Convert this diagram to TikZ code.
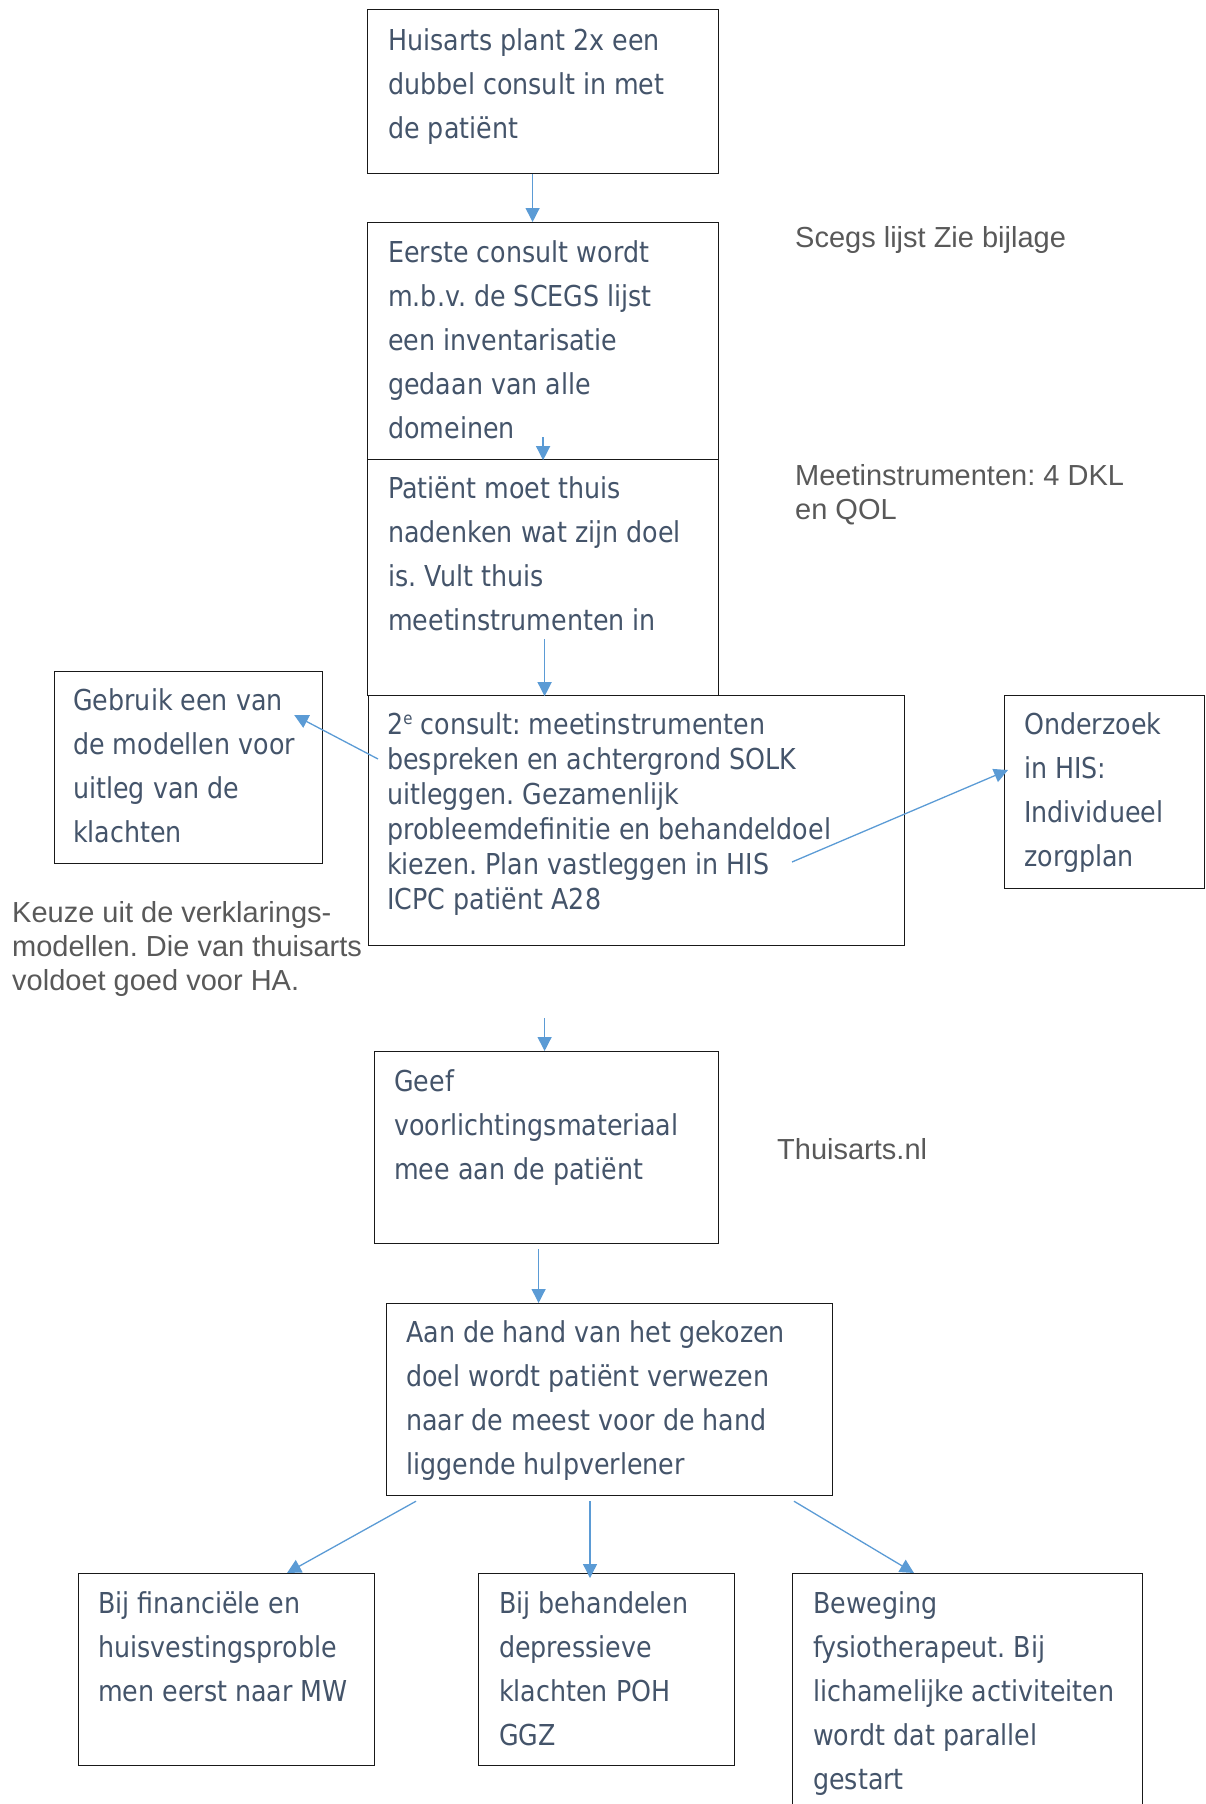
\documentclass[tikz,border=0pt]{standalone}
\usepackage{fontspec}
\setmainfont{DejaVu Sans}[FakeStretch=0.88]
\newfontfamily\freefont{Liberation Sans}
\usetikzlibrary{arrows.meta}
\frenchspacing
\definecolor{boxtxt}{HTML}{44546A}
\definecolor{freetxt}{HTML}{595959}
\definecolor{arrblue}{HTML}{5B9BD5}
\tikzset{
  boxnode/.style={draw=black!90, line width=1.2pt, inner sep=0pt, anchor=north west},
  boxtext/.style={inner sep=0pt, anchor=base west, text=boxtxt, font=\fontsize{28.8}{44}\selectfont},
  boxtextb/.style={inner sep=0pt, anchor=base west, text=boxtxt, font=\fontsize{28.8}{35}\selectfont},
  freetext/.style={inner sep=0pt, anchor=base west, text=freetxt, font=\freefont\fontsize{29}{34}\selectfont},
  arr/.style={draw=arrblue, line width=1.3pt, -{Triangle[length=14pt,width=14pt]}}
}
\begin{document}
\begin{tikzpicture}[x=1pt,y=-1pt]
\useasboundingbox (0,0) rectangle (1206,1804);
% boxes
\node[boxnode, minimum width=351pt, minimum height=164pt] (b1) at (367,9) {};
\node[boxnode, minimum width=351pt, minimum height=237pt] (b2) at (367,222) {};
\node[boxnode, minimum width=351pt, minimum height=236pt] (b3) at (367,459) {};
\node[boxnode, minimum width=536pt, minimum height=250pt] (b4) at (368,695) {};
\node[boxnode, minimum width=268pt, minimum height=192pt] (bG) at (54,671) {};
\node[boxnode, minimum width=200pt, minimum height=193pt] (bO) at (1004,695) {};
\node[boxnode, minimum width=344pt, minimum height=192pt] (b5) at (374,1051) {};
\node[boxnode, minimum width=446pt, minimum height=192pt] (b6) at (386,1303) {};
\node[boxnode, minimum width=296pt, minimum height=192pt] (b7) at (78,1573) {};
\node[boxnode, minimum width=256pt, minimum height=192pt] (b8) at (478,1573) {};
\node[boxnode, minimum width=350pt, minimum height=240pt] (b9) at (792,1573) {};
% box texts
\node[boxtext] (t1) at (388,50) {\vtop{\hbox{Huisarts plant 2x een}\hbox{dubbel consult in met}\hbox{de patiënt}}};
\node[boxtext] (t2) at (388,262) {\vtop{\hbox{Eerste consult wordt}\hbox{m.b.v. de SCEGS lijst}\hbox{een inventarisatie}\hbox{gedaan van alle}\hbox{domeinen}}};
\node[boxtext] (t3) at (388,498) {\vtop{\hbox{Patiënt moet thuis}\hbox{nadenken wat zijn doel}\hbox{is. Vult thuis}\hbox{meetinstrumenten in}}};
\node[boxtextb] (t4) at (387,734) {\vtop{\hbox{2\raisebox{10pt}{\fontsize{17}{17}\selectfont e} consult: meetinstrumenten}\hbox{bespreken en achtergrond SOLK}\hbox{uitleggen. Gezamenlijk}\hbox{probleemdefinitie en behandeldoel}\hbox{kiezen. Plan vastleggen in HIS}\hbox{ICPC patiënt A28}}};
\node[boxtext] (tG) at (73,710) {\vtop{\hbox{Gebruik een van}\hbox{de modellen voor}\hbox{uitleg van de}\hbox{klachten}}};
\node[boxtext] (tO) at (1024,734) {\vtop{\hbox{Onderzoek}\hbox{in HIS:}\hbox{Individueel}\hbox{zorgplan}}};
\node[boxtext] (t5) at (394,1091) {\vtop{\hbox{Geef}\hbox{voorlichtingsmateriaal}\hbox{mee aan de patiënt}}};
\node[boxtext] (t6) at (406,1342) {\vtop{\hbox{Aan de hand van het gekozen}\hbox{doel wordt patiënt verwezen}\hbox{naar de meest voor de hand}\hbox{liggende hulpverlener}}};
\node[boxtext] (t7) at (98,1613) {\vtop{\hbox{Bij financiële en}\hbox{huisvestingsproble}\hbox{men eerst naar MW}}};
\node[boxtext] (t8) at (499,1613) {\vtop{\hbox{Bij behandelen}\hbox{depressieve}\hbox{klachten POH}\hbox{GGZ}}};
\node[boxtext] (t9) at (813,1613) {\vtop{\hbox{Beweging}\hbox{fysiotherapeut. Bij}\hbox{lichamelijke activiteiten}\hbox{wordt dat parallel}\hbox{gestart}}};
% free texts
\node[freetext] (f1) at (795,247) {Scegs lijst Zie bijlage};
\node[freetext] (f2) at (795,485) {\vtop{\hbox{Meetinstrumenten: 4 DKL}\hbox{en QOL}}};
\node[freetext] (f3) at (12,922) {\vtop{\hbox{Keuze uit de verklarings-}\hbox{modellen. Die van thuisarts}\hbox{voldoet goed voor HA.}}};
\node[freetext] (f4) at (777,1159) {Thuisarts.nl};
% arrows
\draw[arr] ([xshift=-10.5]b1.south) -- ([xshift=-10.5]b2.north);
\draw[arr] ([yshift=23]b2.south) -- (b2.south);
\draw[arr] ([xshift=1.5,yshift=57]b3.south) -- ([xshift=1.5]b3.south);
\draw[arr] ([xshift=10,yshift=-64]b4.north west) -- ([xshift=-29,yshift=-44]bG.north east);
\draw[arr] ([xshift=424,yshift=-167]b4.north west) -- ([xshift=4,yshift=-75]bO.north west);
\draw[arr] ([xshift=-2,yshift=33]b5.north) -- ([xshift=-2]b5.north);
\draw[arr] ([xshift=-8,yshift=-5]b5.south) -- ([xshift=-71]b6.north);
\draw[arr] ([xshift=30,yshift=-5]b6.south west) -- ([xshift=209]b7.north west);
\draw[arr] ([xshift=204,yshift=-5]b6.south west) -- ([xshift=112,yshift=-5]b8.north west);
\draw[arr] ([xshift=408,yshift=-5]b6.south west) -- ([xshift=122]b9.north west);
\end{tikzpicture}
\end{document}
